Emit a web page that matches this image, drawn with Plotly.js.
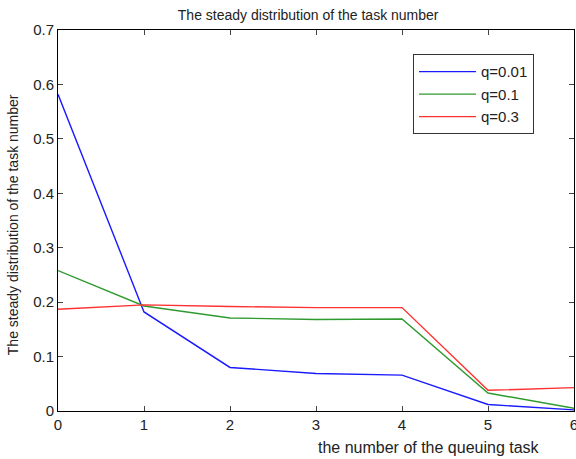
<!DOCTYPE html>
<html><head><meta charset="utf-8">
<script src="https://cdn.plot.ly/plotly-3.0.1.min.js"></script>
<style>html,body{margin:0;padding:0;background:#fff}#chart{width:576px;height:459px}</style>
</head><body><div id="chart"></div>
<script>
const xs = [0, 1, 2, 3, 4, 5, 6];
const q001 = [0.582, 0.182, 0.080, 0.069, 0.066, 0.012, 0.002];
const q01 = [0.258, 0.193, 0.171, 0.168, 0.169, 0.033, 0.005];
const q03 = [0.187, 0.195, 0.192, 0.190, 0.190, 0.038, 0.043];
const names = ['q=0.01', 'q=0.1', 'q=0.3'];
const colors = ['#1a1aff', '#2f9a2f', '#ff3030'];
const series = [q001, q01, q03];
const fam = 'Liberation Sans, Arial, sans-serif';
const tickFont = {family: fam, size: 15, color: '#222'};
const data = series.map((s, i) => ({
  x: xs, y: s, name: names[i], type: 'scatter', mode: 'lines',
  line: {color: colors[i], width: 1.4}
}));
const layout = {
  width: 576, height: 459,
  margin: {l: 58, r: 2, t: 30, b: 48},
  paper_bgcolor: '#fff', plot_bgcolor: '#fff',
  font: tickFont,
  title: {text: 'The steady distribution of the task number', x: 0.535, xanchor: 'center', y: 0.967, yanchor: 'middle', font: {family: fam, size: 14, color: '#222'}},
  xaxis: {range: [0, 6], tickvals: xs, ticks: 'inside', ticklen: 5, mirror: 'ticks', showline: true, linecolor: '#000', linewidth: 1, showgrid: false, zeroline: false, tickfont: tickFont, ticklabeloverflow: 'allow'},
  yaxis: {range: [0, 0.7], tickvals: [0, 0.1, 0.2, 0.3, 0.4, 0.5, 0.6, 0.7], ticktext: ['0', '0.1', '0.2', '0.3', '0.4', '0.5', '0.6', '0.7'], ticks: 'inside', ticklen: 5, mirror: 'ticks', showline: true, linecolor: '#000', linewidth: 1, showgrid: false, zeroline: false, tickfont: tickFont, ticklabeloverflow: 'allow'},
  legend: {x: 0.688, y: 0.936, xanchor: 'left', yanchor: 'top', bordercolor: '#333', borderwidth: 1, bgcolor: '#fff', font: {family: fam, size: 15, color: '#222'}, tracegroupgap: 0, itemwidth: 57},
  annotations: [
    {text: 'the number of the queuing task', xref: 'paper', yref: 'paper', x: 0.719, y: -0.095, xanchor: 'center', yanchor: 'middle', showarrow: false, font: {family: fam, size: 16, color: '#222'}},
    {text: 'The steady distribution of the task number', xref: 'paper', yref: 'paper', x: -0.087, y: 0.488, xanchor: 'center', yanchor: 'middle', textangle: -90, showarrow: false, font: {family: fam, size: 14, color: '#222'}}
  ],
  showlegend: true
};
Plotly.newPlot('chart', data, layout, {displayModeBar: false, staticPlot: true});
</script></body></html>
